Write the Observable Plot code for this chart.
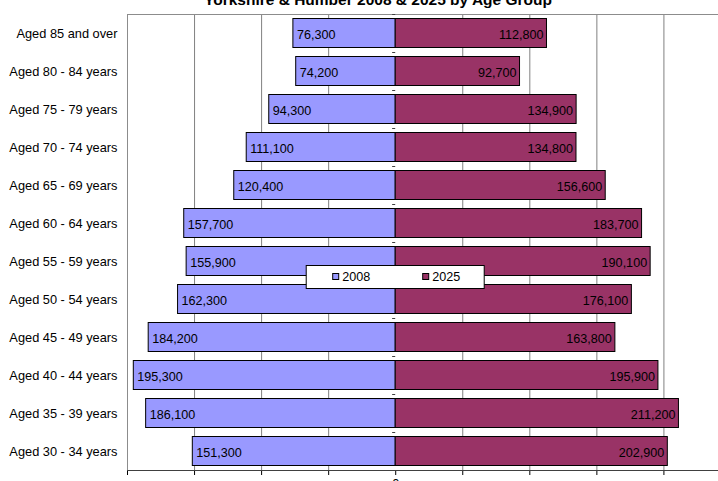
<!DOCTYPE html>
<html>
<head>
<meta charset="utf-8">
<script src="https://cdn.jsdelivr.net/npm/d3@7"></script>
<script src="https://cdn.jsdelivr.net/npm/@observablehq/plot@0.6"></script>
<style>
  html, body { margin: 0; padding: 0; background: #fff; overflow: hidden; width: 718px; height: 481px; }
  #chart { position: relative; width: 718px; height: 481px; overflow: hidden; }
  #chart svg { max-width: none !important; }
</style>
</head>
<body>
<div id="chart"></div>
<script>
// Population by age band, Yorkshire & Humber
const ageGroups = [
  "Aged 85 and over", "Aged 80 - 84 years", "Aged 75 - 79 years", "Aged 70 - 74 years",
  "Aged 65 - 69 years", "Aged 60 - 64 years", "Aged 55 - 59 years", "Aged 50 - 54 years",
  "Aged 45 - 49 years", "Aged 40 - 44 years", "Aged 35 - 39 years", "Aged 30 - 34 years"
];
const pop2008 = [76300, 74200, 94300, 111100, 120400, 157700, 155900, 162300, 184200, 195300, 186100, 151300];
const pop2025 = [112800, 92700, 134900, 134800, 156600, 183700, 190100, 176100, 163800, 195900, 211200, 202900];
const seriesNames = ["2008", "2025"];
const seriesColors = ["#9999ff", "#993366"];
const gridTicks = [-150000, -100000, -50000, 50000, 100000, 150000, 200000, 250000];
const axisTicks = [-200000, -150000, -100000, -50000, 0, 50000, 100000, 150000, 200000, 250000];
const chartTitle = "Yorkshire & Humber 2008 & 2025 by Age Group";

const rows = ageGroups.flatMap((age, i) => [
  {age, year: seriesNames[0], value: pop2008[i], signed: -pop2008[i]},
  {age, year: seriesNames[1], value: pop2025[i], signed: pop2025[i]}
]);
const left = rows.filter(d => d.year === seriesNames[0]);
const right = rows.filter(d => d.year === seriesNames[1]);
const fmt = d3.format(",");
const font = "'Liberation Sans', Arial, sans-serif";

const plot = Plot.plot({
  width: 764,
  height: 481,
  marginLeft: 127,
  marginRight: 0,
  marginTop: 14,
  marginBottom: 11,
  style: {fontFamily: font, fontSize: "12.8px", background: "#fff", color: "#000", overflow: "visible", maxWidth: "none"},
  x: {
    domain: [-200000, 275000],
    ticks: axisTicks,
    tickFormat: d => (d === 0 ? "0" : ""),
    tickSize: 5,
    tickPadding: 3,
    label: null,
    line: false
  },
  y: {domain: ageGroups, padding: 0, tickSize: 0, tickPadding: 10, label: null},
  color: {domain: seriesNames, range: seriesColors},
  marks: [
    Plot.ruleX(gridTicks, {stroke: "#808080", strokeWidth: 1}),
    Plot.frame({stroke: "#8c8c8c"}),
    Plot.ruleY(ageGroups, {y: d => d, x1: 0, x2: -2300, dy: -19, stroke: "#404040"}),
    Plot.barX(rows, {
      y: "age", x1: 0, x2: "signed", fill: "year",
      stroke: "#000", strokeWidth: 1, insetTop: 4.5, insetBottom: 4.5
    }),
    Plot.text(left, {
      y: "age", x: "signed", text: d => fmt(d.value),
      textAnchor: "start", dx: 3.5, dy: 1, fill: "#000", fontSize: 12.6, className: "vlabel"
    }),
    Plot.text(right, {
      y: "age", x: "signed", text: d => fmt(d.value),
      textAnchor: "end", dx: -3.5, dy: 1, fill: "#000", fontSize: 12.6, className: "vlabel"
    })
  ]
});

document.getElementById("chart").appendChild(plot);
const svg = d3.select(plot);

// bottom axis line
const xs = plot.scale("x");
svg.append("line")
  .attr("x1", 127).attr("x2", 764)
  .attr("y1", 470.5).attr("y2", 470.5)
  .attr("stroke", "#404040");

// white boxes behind value labels
svg.selectAll("g.vlabel text").each(function () {
  const b = this.getBBox();
  d3.select(this.parentNode).insert("rect", () => this)
    .attr("x", b.x - 1).attr("y", b.y + 1.5)
    .attr("width", b.width + 2).attr("height", b.height - 2)
    .attr("fill", "#fff");
});

// title
svg.append("text")
  .attr("x", 378).attr("y", 5)
  .attr("text-anchor", "middle")
  .attr("font-family", font)
  .attr("font-weight", "bold")
  .attr("font-size", 15.5)
  .text(chartTitle);

// legend box in the middle of the plot
const x0 = xs.apply(0);
const lg = svg.append("g").attr("font-family", font).attr("font-size", 12.6).attr("text-anchor", "start");
lg.append("rect")
  .attr("x", x0 - 89).attr("y", 265.5)
  .attr("width", 178).attr("height", 23)
  .attr("fill", "#fff").attr("stroke", "#000");
const legendItems = [
  {name: seriesNames[0], color: seriesColors[0], sx: x0 - 63},
  {name: seriesNames[1], color: seriesColors[1], sx: x0 + 27}
];
legendItems.forEach(it => {
  lg.append("rect")
    .attr("x", it.sx + 0.5).attr("y", 273.5)
    .attr("width", 6).attr("height", 6)
    .attr("fill", it.color).attr("stroke", "#000");
  lg.append("text")
    .attr("x", it.sx + 10).attr("y", 281)
    .attr("text-anchor", "start")
    .text(it.name);
});
</script>
</body>
</html>
